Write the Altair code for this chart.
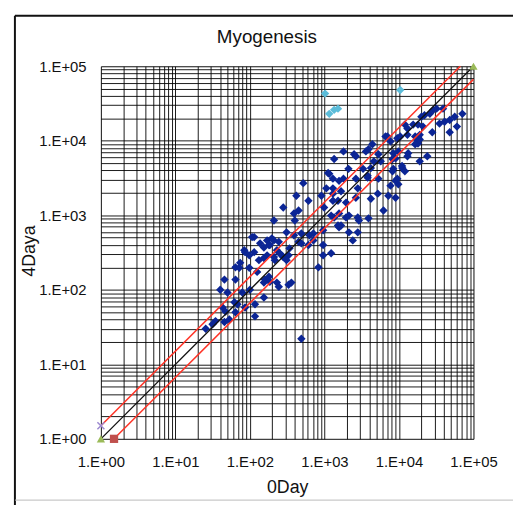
import altair as alt
import pandas as pd

# ---- scatter data (0Day vs 4Daya) ----
day0 = [71000, 56000, 48000, 41000, 35000, 39000, 32000, 29000, 26000, 22000,
        20000, 28000, 12000, 13000, 15500, 18000, 21000, 19000, 17500, 18000,
        13300, 9800, 8400, 9000, 7000, 7700, 11100, 8400, 9500, 6600,
        9500, 13000, 16500, 19000, 16500, 4400, 3900, 3600, 1800, 2500,
        5300, 13000, 8200, 11000, 4200, 2100, 1160, 1300, 1570, 1800,
        2640, 3800, 9000, 9800, 8200, 1060, 1670, 2800, 5200, 7200,
        9000, 4200, 1950, 6200, 1570, 2130, 2800, 2900, 3900, 1300,
        1670, 2640, 1350, 3300, 3800, 1120, 520, 420, 610, 280,
        910, 990, 1300, 1520, 2640, 2130, 1570, 1230, 710, 490,
        400, 450, 390, 210, 170, 114, 185, 137, 1300, 1950,
        1350, 1520, 960, 2800, 310, 390, 630, 450, 490, 610,
        710, 960, 2400, 210, 180, 154, 230, 250, 216, 280,
        170, 330, 1230, 960, 830, 185, 230, 159, 107, 197,
        244, 84, 114, 98, 132, 340, 74, 360, 330, 490,
        86, 154, 210, 267, 310, 64, 72, 98, 125, 45.5,
        64, 154, 180, 244, 40, 50, 79, 100, 154, 62,
        68, 86, 117, 43, 47, 64, 53, 117, 34.5, 45.5,
        25.5, 31.5, 60000, 48000, 24000, 19000, 12000, 7700, 5300, 4600,
        5700, 10400]
day4a = [23000, 21000, 19000, 18000, 17000, 27000, 27000, 26000, 23000, 22000,
         21000, 13000, 16500, 14600, 16500, 16500, 15500, 12000, 10400, 9200,
         6800, 7200, 6800, 5800, 11400, 9800, 4300, 4200, 3100, 11400,
         10800, 12000, 11400, 10400, 9000, 9000, 7700, 7200, 7200, 6600,
         6600, 6200, 5700, 4600, 4300, 4200, 3600, 3100, 2900, 3100,
         3100, 3200, 2900, 2600, 3900, 2300, 2100, 2300, 1950, 1830,
         1720, 1670, 1480, 1160, 1060, 990, 935, 850, 910, 1570,
         730, 6200, 5700, 4200, 3400, 3700, 2700, 1830, 1570, 1270,
         1830, 1270, 2300, 1570, 1720, 590, 690, 990, 570, 570,
         850, 1160, 1060, 850, 460, 510, 400, 420, 1950, 935,
         935, 730, 630, 590, 590, 540, 540, 440, 420, 400,
         460, 400, 460, 460, 400, 370, 340, 310, 250, 275,
         290, 290, 310, 290, 200, 128, 125, 137, 510, 490,
         440, 340, 320, 290, 250, 360, 230, 125, 117, 22,
         320, 267, 275, 290, 250, 200, 197, 197, 174, 137,
         137, 125, 150, 110, 100, 92, 92, 100, 79, 68,
         64, 58, 64, 58, 51, 50, 40, 44, 38, 37,
         30, 34.5, 15500, 13000, 6200, 5300, 3900, 2500, 3100, 5300,
         5300, 11400]

# ---- highlighted (cyan) points ----
hi_day0 = [1020, 1160, 1350, 1520, 10400]
hi_day4a = [43000, 23000, 26000, 27000, 48000]

# ---- reference lines: y = x, y = 1.5x, y = x/1.5 ----
diag_x = [1, 100000]
diag_y = [1, 100000]
up_x = [1, 66667]
up_y = [1.5, 100000]
lo_x = [1.5, 100000]
lo_y = [1, 66667]

# ---- series end markers ----
tri_x = [1, 100000]
tri_y = [1, 100000]
cross_x = [1]
cross_y = [1.5]
sq_x = [1.5]
sq_y = [1]

# ---- axis grid values ----
decades = [0, 1, 2, 3, 4]
mults = [1, 2, 3, 4, 5, 6, 7, 8, 9]
grid_vals = [m * 10 ** k for k in decades for m in mults] + [100000]

TITLE = "Myogenesis"
W = 377
H = 377
FONT = "Liberation Sans"

xscale = alt.Scale(type="log", domain=[1, 100000], nice=False)
yscale = alt.Scale(type="log", domain=[1, 100000], nice=False)

label_expr = ("abs(log(datum.value)/LN10 - round(log(datum.value)/LN10)) < 0.001 ? "
              "'1.E+0' + round(log(datum.value)/LN10) : ''")

xaxis = alt.Axis(values=grid_vals, labelExpr=label_expr, title="0Day",
                 grid=True, gridColor="#000000", gridOpacity=0.9, gridWidth=1,
                 ticks=False, tickSize=0, domain=False, labelOverlap=False,
                 labelFlush=False, labelFont=FONT, labelFontSize=15, labelColor="#111111",
                 labelPadding=16, titleFont=FONT, titleFontSize=18,
                 titleFontWeight="normal", titleColor="#111111",
                 titleX=W / 2, titleY=49, titleBaseline="middle", titleAlign="center")
yaxis = alt.Axis(values=grid_vals, labelExpr=label_expr, title="4Daya",
                 grid=True, gridColor="#000000", gridOpacity=0.9, gridWidth=1,
                 ticks=False, tickSize=0, domain=False, labelOverlap=False,
                 labelFlush=False, labelFont=FONT, labelFontSize=15, labelColor="#111111",
                 labelPadding=15, titleFont=FONT, titleFontSize=18,
                 titleFontWeight="normal", titleColor="#111111",
                 titleX=-72, titleY=H / 2 - 2, titleBaseline="middle", titleAlign="center",
                 titleAngle=270)

X = alt.X("x:Q", scale=xscale, axis=xaxis)
Y = alt.Y("y:Q", scale=yscale, axis=yaxis)


def xy_df(xs, ys):
    return pd.DataFrame({"x": xs, "y": ys})


pts = alt.Chart(xy_df(day0, day4a)).mark_point(
    shape="diamond", filled=True, size=72, color="#0b2595", opacity=1, clip=False
).encode(x=X, y=Y)

hi = alt.Chart(xy_df(hi_day0, hi_day4a)).mark_point(
    shape="diamond", filled=True, size=72, color="#5bbcd9", opacity=1
).encode(x=X, y=Y)


def mk_line(xs, ys, color, w):
    return alt.Chart(xy_df(xs, ys)).mark_line(
        color=color, strokeWidth=w, clip=False).encode(x=X, y=Y)


diag = mk_line(diag_x, diag_y, "#111111", 1.3)
up = mk_line(up_x, up_y, "#ff3326", 1.5)
lo = mk_line(lo_x, lo_y, "#ff3326", 1.5)

tri = alt.Chart(xy_df(tri_x, tri_y)).mark_point(
    shape="triangle-up", filled=True, size=70, color="#9bbb59", opacity=1, clip=False
).encode(x=X, y=Y)
crs = alt.Chart(xy_df(cross_x, cross_y)).mark_point(
    shape="M-1,-1L1,1M-1,1L1,-1", filled=False, size=50, color="#9d8ad0",
    strokeWidth=1.5, opacity=1, clip=False
).encode(x=X, y=Y)
sq = alt.Chart(xy_df(sq_x, sq_y)).mark_point(
    shape="square", filled=True, size=70, color="#c0504d", opacity=1, clip=False
).encode(x=X, y=Y)

one = pd.DataFrame({"a": [0]})

# chart title as a text mark (so the outer frame does not push it away)
title_mark = alt.Chart(one).mark_text(
    text=TITLE, font=FONT, fontSize=19, color="#111111", align="center", baseline="middle"
).encode(x=alt.value(168), y=alt.value(-30))

# outer chart-area frame
frame_left = alt.Chart(one).mark_rule(color="#111111", strokeWidth=2).encode(
    x=alt.value(-87), y=alt.value(-51), y2=alt.value(460))
frame_top = alt.Chart(one).mark_rule(color="#111111", strokeWidth=2).encode(
    x=alt.value(-87), x2=alt.value(430), y=alt.value(-51))
frame_bot = alt.Chart(one).mark_rule(color="#bbbbbb", strokeWidth=1).encode(
    x=alt.value(-87), x2=alt.value(430), y=alt.value(439))

chart = alt.layer(
    pts, diag, up, lo, hi, tri, crs, sq, title_mark, frame_left, frame_top, frame_bot
).properties(
    width=W, height=H,
    autosize=alt.AutoSizeParams(type="none"),
    padding={"left": 94, "top": 56, "right": 40, "bottom": 64},
).configure_view(stroke="#999999", strokeWidth=1).configure(background="white")

chart.save("out.html", embed_options={"renderer": "svg", "actions": False})
